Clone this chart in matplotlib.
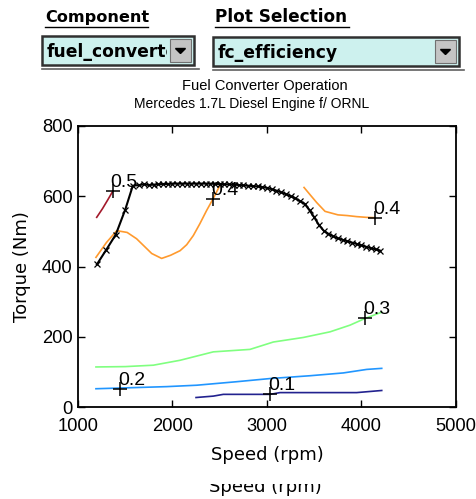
import matplotlib
matplotlib.use("Agg")
import matplotlib.pyplot as plt
from matplotlib.patches import Rectangle, Polygon
from matplotlib import font_manager

W, H = 477, 499

names = {f.name for f in font_manager.fontManager.ttflist}
NARROW = "Liberation Sans Narrow" if "Liberation Sans Narrow" in names else "Liberation Sans"

# ---------------- data ----------------
max_rpm = [1200, 1300, 1400, 1500, 1580, 1650, 1700, 1750, 1800, 1850, 1900, 1950, 2000,
           2050, 2100, 2150, 2200, 2250, 2300, 2350, 2400, 2450, 2500, 2550, 2600, 2650,
           2700, 2750, 2800, 2850, 2900, 2950, 3000, 3050, 3100, 3150, 3200, 3250, 3300,
           3350, 3400, 3450, 3500, 3550, 3600, 3650, 3700, 3750, 3800, 3850, 3900, 3950,
           4000, 4050, 4100, 4150, 4200]
max_trq = [406, 448, 491, 562, 630, 632, 634, 632, 633, 634, 635, 635, 636,
           636, 636, 636, 636, 636, 636, 636, 636, 635, 635, 634, 634, 633,
           632, 631, 630, 629, 628, 626, 624, 620, 616, 611, 606, 600, 594,
           586, 578, 560, 540, 518, 502, 493, 486, 480, 476, 472, 468, 464,
           460, 456, 452, 449, 445]

eff_05_rpm = [1198, 1260, 1320, 1367]
eff_05_trq = [540, 565, 592, 614]

eff_04a_rpm = [1190, 1300, 1410, 1520, 1620, 1700, 1780, 1885, 1980, 2080, 2150, 2220, 2290, 2360, 2430, 2500]
eff_04a_trq = [426, 468, 502, 497, 479, 458, 437, 423, 432, 445, 462, 488, 522, 559, 593, 630]

eff_04b_rpm = [3392, 3460, 3526, 3614, 3751, 3850, 3949, 4050, 4143]
eff_04b_trq = [625, 603, 582, 557, 547, 545, 542, 540, 539]

eff_03_rpm = [1190, 1500, 1797, 2080, 2432, 2820, 3067, 3385, 3667, 3878, 4037, 4214]
eff_03_trq = [114, 115, 119, 133, 157, 164, 185, 198, 214, 233, 252, 270]

eff_02_rpm = [1190, 1444, 1938, 2256, 2679, 3032, 3455, 3808, 4055, 4214]
eff_02_trq = [52, 54, 58, 62, 72, 81, 89, 97, 107, 110]

eff_01_rpm = [2249, 2432, 2538, 3032, 3138, 3949, 4214]
eff_01_trq = [27, 31, 36, 36, 41, 41, 47]

labels = ["0.5", "0.4", "0.4", "0.3", "0.2", "0.1"]
label_rpm = [1367, 2430, 4143, 4037, 1444, 3032]
label_trq = [614, 593, 539, 252, 52, 36]

contours = [
    (eff_05_rpm, eff_05_trq, "#a3192b"),
    (eff_04a_rpm, eff_04a_trq, "#ff9a2e"),
    (eff_04b_rpm, eff_04b_trq, "#ff9a2e"),
    (eff_03_rpm, eff_03_trq, "#80ff80"),
    (eff_02_rpm, eff_02_trq, "#2196ff"),
    (eff_01_rpm, eff_01_trq, "#22228f"),
]

xticks = [1000, 2000, 3000, 4000, 5000]
yticks = [0, 200, 400, 600, 800]

# ---------------- figure ----------------
fig = plt.figure(figsize=(W / 100, H / 100), dpi=100)
fig.patch.set_facecolor("white")

def fx(px):
    return px / W

def fy(py):
    return 1 - py / H

ax = fig.add_axes([fx(78), fy(407), (456 - 78) / W, (407 - 126) / H])
ax.set_xlim(1000, 5000)
ax.set_ylim(0, 800)

for r, t, c in contours:
    ax.plot(r, t, color=c, lw=1.2)

ax.plot(max_rpm, max_trq, color="black", lw=1.5, marker="x", ms=5, mew=0.9)

ax.plot(label_rpm, label_trq, linestyle="none", marker="+", ms=10, mew=1.1, color="black")
for s, r, t in zip(labels, label_rpm, label_trq):
    ax.annotate(s, (r, t), xytext=(-2, 4), textcoords="offset pixels",
                fontsize=14, family=NARROW, ha="left", va="baseline", color="black")

ax.set_xticks(xticks)
ax.set_yticks(yticks)
ax.tick_params(direction="in", length=5, width=1, top=True, right=True,
               labelsize=13.2, pad=4)
ax.tick_params(axis="x", pad=8)
for lab in ax.get_xticklabels() + ax.get_yticklabels():
    lab.set_family(NARROW)
for sp in ax.spines.values():
    sp.set_linewidth(1.3)

ax.set_xlabel("Speed (rpm)", fontsize=13, family="DejaVu Sans", labelpad=8)
ax.set_ylabel("Torque (Nm)", fontsize=13, family="DejaVu Sans", labelpad=8)

# title lines
fig.text(fx(265), fy(90), "Fuel Converter Operation", ha="center", va="baseline",
         fontsize=10.5, family=NARROW)
fig.text(fx(252), fy(108), "Mercedes 1.7L Diesel Engine f/ ORNL", ha="center", va="baseline",
         fontsize=10.0, family=NARROW)

# ---------------- top widgets ----------------
def label_widget(x, y, text, width, size):
    fig.text(fx(x), fy(y), text, ha="left", va="baseline", fontsize=size,
             family="DejaVu Sans", weight="bold")
    fig.add_artist(plt.Line2D([fx(x), fx(x + width)], [fy(y + 5), fy(y + 5)], color="black", lw=1))

label_widget(45, 22, "Component", 103, 11.6)
label_widget(215, 22, "Plot Selection", 134, 12.2)

CYAN = "#cdf1ee"
GRAY = "#c4c4c4"

def button(x0, x1, y0, y1):
    fig.add_artist(Rectangle((fx(x0), fy(y1)), fx(x1 - x0), (y1 - y0) / H,
                             facecolor=GRAY, edgecolor="#707070", lw=0.8, zorder=4))
    cx, cy = (x0 + x1) / 2, (y0 + y1) / 2
    fig.add_artist(Polygon([(fx(cx - 5), fy(cy - 2)), (fx(cx + 5), fy(cy - 2)), (fx(cx), fy(cy + 3))],
                           closed=True, facecolor="black", edgecolor="black", zorder=5))

def dropdown(x0, x1, y0, y1, text, cut=False):
    fig.add_artist(Rectangle((fx(x0), fy(y1)), fx(x1 - x0), (y1 - y0) / H,
                             facecolor=CYAN, edgecolor="#303030", lw=1.8, zorder=1))
    bx0, bx1 = x1 - 24, x1 - 3
    fig.text(fx(x0 + 5), fy(y0 + 21), text, ha="left", va="baseline", fontsize=12.3,
             family="DejaVu Sans", weight="bold", zorder=2)
    if cut:
        fig.add_artist(Rectangle((fx(bx0 - 3), fy(y1 - 3)), fx(bx1 - bx0 + 3), (y1 - y0 - 6) / H,
                                 facecolor=CYAN, edgecolor="none", zorder=3))
    button(bx0, bx1, y0 + 3, y1 - 3)
    fig.add_artist(plt.Line2D([fx(x0), fx(x1 + 5)], [fy(y1 + 4), fy(y1 + 4)], color="#606060", lw=1.2))

dropdown(42, 194, 36, 65, "fuel_converter", cut=True)
dropdown(213, 459, 37, 66, "fc_efficiency")

# clipped duplicate x-label at bottom
fig.text(fx(265), fy(492), "Speed (rpm)", ha="center", va="baseline", fontsize=13,
         family="DejaVu Sans", zorder=1)
fig.add_artist(Rectangle((fx(195), fy(484)), fx(140), 16 / H, facecolor="white",
                         edgecolor="none", zorder=5))

fig.savefig("out.png", dpi=100)
